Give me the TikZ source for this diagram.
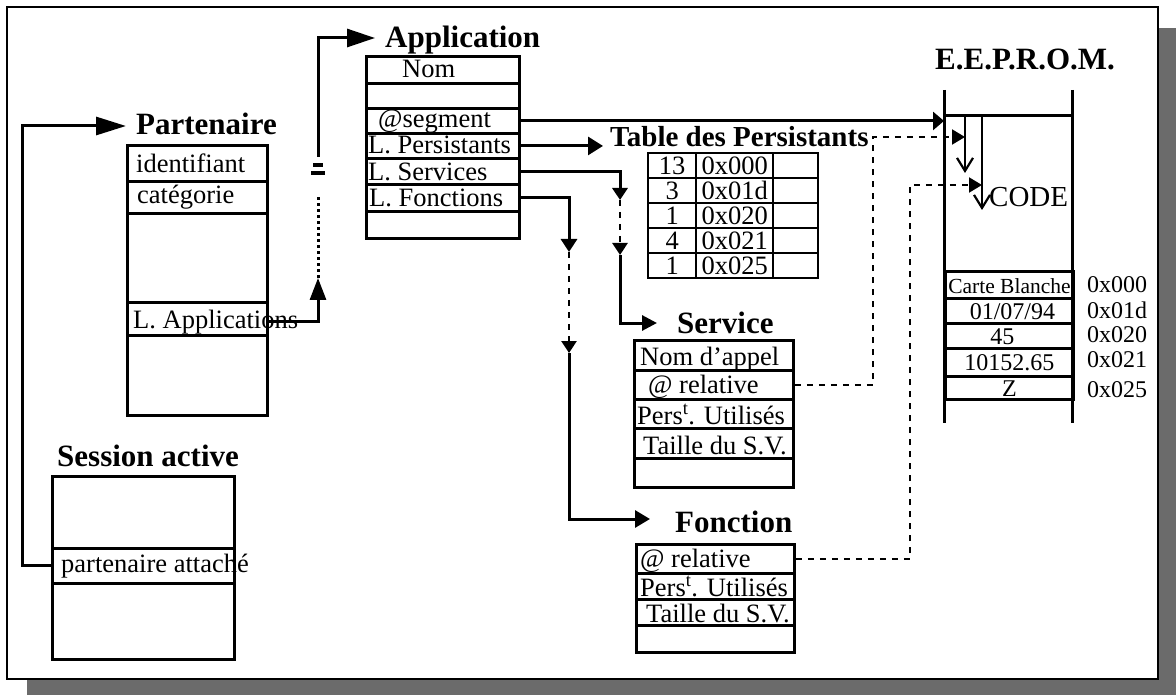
\documentclass[tikz,border=0pt]{standalone}
\usepackage{fontspec}
\setmainfont{Liberation Serif}
\usetikzlibrary{arrows.meta,calc}
\newcommand\cellfont{\fontsize{26.5}{28}\selectfont}
\newcommand\memfont{\fontsize{24}{26}\selectfont}
\newcommand\headfont{\fontsize{31}{33}\selectfont\bfseries}
\begin{document}
\begin{tikzpicture}[x=1pt,y=-1pt,
  cell/.style 2 args={draw,line width=2.9pt,anchor=north west,inner sep=0pt,
    minimum width=#1,minimum height=#2},
  tcell/.style 2 args={cell={#1}{#2},line width=2.4pt,font=\cellfont,
    text height=18pt,text depth=0pt},
  mcell/.style={cell={128}{#1},font=\memfont,
    text height=17pt,text depth=0pt},
  lbl/.style={font=\cellfont,inner sep=0pt,anchor=base west},
  ttl/.style={font=\headfont,inner sep=0pt,anchor=base west},
  addr/.style={font=\memfont,inner sep=0pt,anchor=base west},
  conn/.style={line width=3pt},
  dashconn/.style={line width=2.8pt,dash pattern=on 6pt off 6pt},
  dashlink/.style={line width=2pt,dash pattern=on 6pt off 6pt},
  wall/.style={line width=3pt},
]
\useasboundingbox (0,0) rectangle (1176,695);

% shadow and frame
\fill[black!58] (27,28) rectangle (1176,695);
\draw[line width=2.2pt,fill=white] (7,7) rectangle (1158,679);

% Partenaire
\node[ttl] (ptl) at (136,135) {Partenaire};
\node[cell={140}{36}] (p1) at (126,144) {};
\node[cell={140}{32}] (p2) at (126,180) {};
\node[cell={140}{89}] (p3) at (126,212) {};
\node[cell={140}{33}] (p4) at (126,301) {};
\node[cell={140}{80}] (p5) at (126,334) {};
\node[lbl] (p1t) at (136,173) {identifiant};
\node[lbl] (p2t) at (137,204) {catégorie};
\node[lbl] (p4t) at (133,328) {L. Applications};

% Session active
\node[ttl] (xtl) at (57,466) {Session active};
\node[cell={182}{72}] (x1) at (51,475) {};
\node[cell={182}{35}] (x2) at (51,547) {};
\node[cell={182}{76}] (x3) at (51,582) {};
\node[lbl] (x2t) at (61,572) {partenaire attaché};

% Application
\node[ttl] (atl) at (385,48) {Application};
\node[cell={153}{27}] (a1) at (365,55) {};
\node[cell={153}{25}] (a2) at (365,82) {};
\node[cell={153}{25}] (a3) at (365,107) {};
\node[cell={153}{25}] (a4) at (365,132) {};
\node[cell={153}{26}] (a5) at (365,157) {};
\node[cell={153}{27}] (a6) at (365,183) {};
\node[cell={153}{27}] (a7) at (365,210) {};
\node[lbl] (a1t) at (402,78) {Nom};
\node[lbl] (a3t) at (378,128) {@segment};
\node[lbl] (a4t) at (368,154) {L. Persistants};
\node[lbl] (a5t) at (368,181) {L. Services};
\node[lbl] (a6t) at (369,207) {L. Fonctions};

% Table des Persistants
\node[ttl,font=\fontsize{29}{31}\selectfont\bfseries] (ttl) at (610,147) {Table des Persistants};
\foreach \r/\n/\a [count=\i from 0] in {1/13/0x000,2/3/0x01d,3/1/0x020,4/4/0x021,5/1/0x025}{
  \node[tcell={48}{25}] (t\r a) at (647,152+25*\i) {\n};
  \node[tcell={77}{25}] (t\r b) at (695,152+25*\i) {\a};
  \node[tcell={45}{25}] (t\r c) at (772,152+25*\i) {};
}

% Service
\node[ttl] (stl) at (677,333) {Service};
\node[cell={159}{30}] (s1) at (633,339) {};
\node[cell={159}{29}] (s2) at (633,369) {};
\node[cell={159}{29}] (s3) at (633,398) {};
\node[cell={159}{30}] (s4) at (633,427) {};
\node[cell={159}{29}] (s5) at (633,457) {};
\node[lbl] (s1t) at (640,365) {Nom d’appel};
\node[lbl] (s2t) at (648,393) {@ relative};
\node[lbl] (s3t) at (637,424) {Pers\textsuperscript{t}. Utilisés};
\node[lbl] (s4t) at (643,454) {Taille du S.V.};

% Fonction
\node[ttl] (ftl) at (675,532) {Fonction};
\node[cell={158}{29}] (f1) at (635,543) {};
\node[cell={158}{26}] (f2) at (635,572) {};
\node[cell={158}{26}] (f3) at (635,598) {};
\node[cell={158}{27}] (f4) at (635,624) {};
\node[lbl] (f1t) at (640,567) {@ relative};
\node[lbl] (f2t) at (640,596) {Pers\textsuperscript{t}. Utilisés};
\node[lbl] (f3t) at (646,622) {Taille du S.V.};

% E.E.P.R.O.M.
\node[ttl] (etl) at (935,70) {E.E.P.R.O.M.};
\node[anchor=north west,inner sep=0pt,minimum width=128,minimum height=333] (eep) at (944,90) {};
\draw[wall] (eep.north west) -- (eep.south west);
\draw[wall] (eep.north east) -- (eep.south east);
\draw[wall] (eep.west |- 0,116) -- (eep.east |- 0,116);
\node[mcell=27,font=\fontsize{21.5}{23}\selectfont] (e1) at (944,270) {Carte Blanche};
\node[mcell=25] (e2) at (944,297) {\hspace*{6pt}01/07/94};
\node[mcell=25] (e3) at (944,322) {45\hspace*{14pt}};
\node[mcell=28] (e4) at (944,347) {10152.65};
\node[mcell=23] (e5) at (944,375) {Z};
\node[addr] (m1) at (1087,293) {0x000};
\node[addr] (m2) at (1087,318) {0x01d};
\node[addr] (m3) at (1087,342) {0x020};
\node[addr] (m4) at (1087,367) {0x021};
\node[addr] (m5) at (1087,397) {0x025};
\node[lbl,font=\fontsize{29}{31}\selectfont] (code) at (989,207) {CODE};
\coordinate (v1a) at (965,116);
\coordinate (v1b) at (965,173);
\coordinate (v2a) at (982,116);
\coordinate (v2b) at (982,210);
\draw[line width=2.2pt,-{Straight Barb[length=13pt,width=16pt]}] (v1a) -- (v1b);
\draw[line width=2.2pt,-{Straight Barb[length=13pt,width=16pt]}] (v2a) -- (v2b);

% Session active -> Partenaire
\coordinate (rail) at (22,126);
\draw[conn,-{Triangle[length=30pt,width=18pt]}] (x2.west) -| (rail)
  -- ([shift={(-10pt,9pt)}]ptl.base west);

% L. Applications -> Application
\coordinate (ua) at (318,278);
\coordinate (ub) at (318,197);
\coordinate (uc) at (318,157);
\draw[conn,-{Triangle[length=22pt,width=16pt]}] ([yshift=-3pt]p4.east) -| (ua);
\draw[line width=3pt,dash pattern=on 3pt off 3pt] (ua) -- (ub);
\draw[line width=3.5pt] (313,165) -- (323,165);
\draw[line width=4pt] (311,173) -- (325,173);
\draw[conn,-{Triangle[length=28pt,width=18pt]}] (uc) |- ([shift={(-10pt,10pt)}]atl.base west);

% @segment -> E.E.P.R.O.M.
\draw[conn,-{Triangle[length=11pt,width=18pt]}] (a3.east) -- (a3.east -| eep.west);

% L. Persistants -> Table des Persistants
\draw[conn,-{Triangle[length=15pt,width=18pt]}] (a4.east) -- ([xshift=-7pt]a4.east -| ttl.west);

% L. Services -> Service
\coordinate (sa) at (620,200);
\coordinate (sb) at (620,255);
\draw[conn,-{Triangle[length=12pt,width=15pt]}] (a5.east) -| (sa);
\draw[dashconn,-{Triangle[length=12pt,width=15pt]}] (sa) -- (sb);
\draw[conn,-{Triangle[length=15pt,width=15pt]}] (sb) |- ([shift={(-20pt,10pt)}]stl.base west);

% L. Fonctions -> Fonction
\coordinate (fa) at (569,252);
\coordinate (fb) at (569,353);
\draw[conn,-{Triangle[length=13pt,width=16pt]}] (a6.east) -| (fa);
\draw[dashconn,-{Triangle[length=12pt,width=15pt]}] (fa) -- (fb);
\draw[conn,-{Triangle[length=15pt,width=17pt]}] (fb) |- ([shift={(-25pt,13pt)}]ftl.base west);

% relative addresses -> code in E.E.P.R.O.M.
\coordinate (sk) at (873,137);
\coordinate (fk) at (910,185);
\draw[dashlink,-{Triangle[length=13pt,width=15pt]}] (s2.east) -| (sk) -- (v1a |- sk);
\draw[dashlink,-{Triangle[length=13pt,width=15pt]}] (f1.east) -| (fk) -- (v2a |- fk);
\end{tikzpicture}
\end{document}
